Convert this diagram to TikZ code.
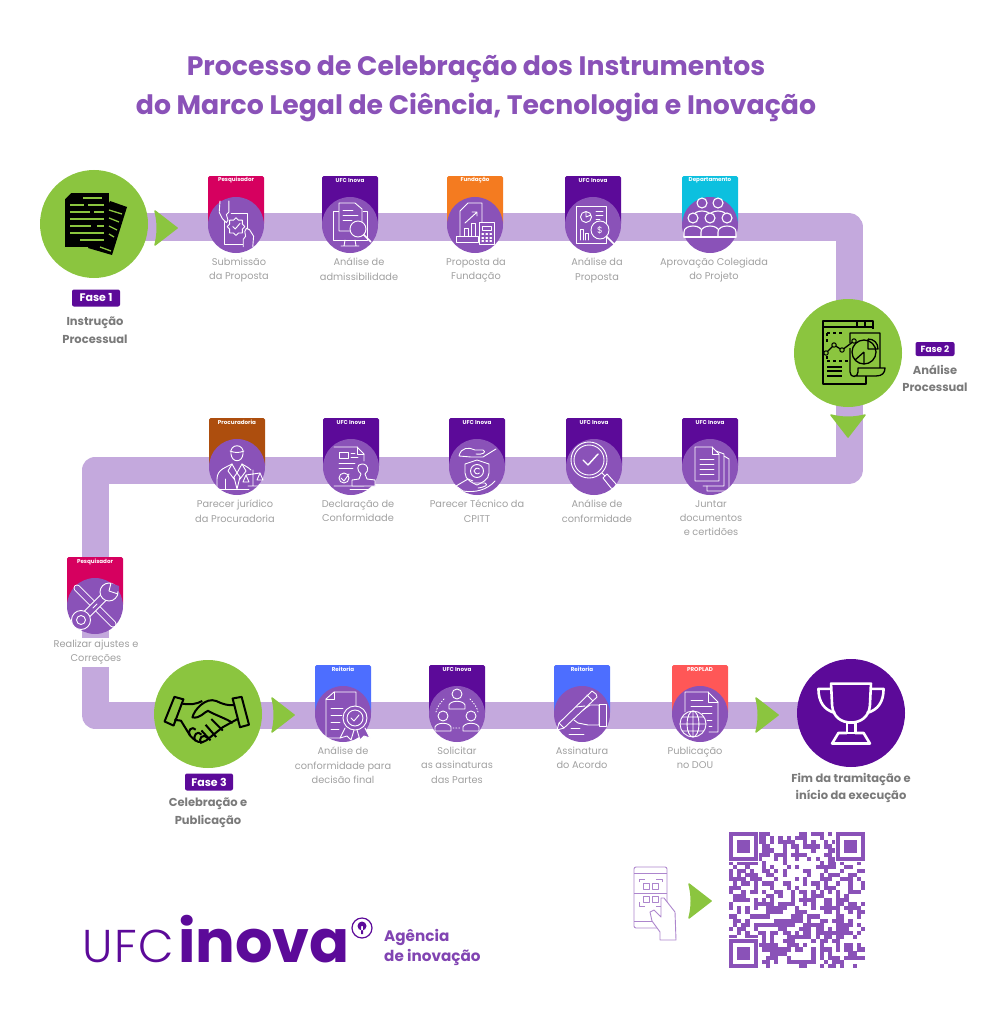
\documentclass[tikz,border=0pt]{standalone}
\usepackage{fontspec}
\setmainfont{Poppins}
\newfontfamily\lightfont[LetterSpace=4]{Poppins Light}
\usetikzlibrary{backgrounds}

\definecolor{verde}{HTML}{8BC53F}
\definecolor{faixa}{HTML}{C4A9DD}
\definecolor{disco}{HTML}{8A52B8}
\definecolor{roxo}{HTML}{5C0A99}
\definecolor{rosa}{HTML}{D6005F}
\definecolor{laranja}{HTML}{F47B20}
\definecolor{ciano}{HTML}{0CC0DF}
\definecolor{marrom}{HTML}{AD4E0E}
\definecolor{azul}{HTML}{4D6EFF}
\definecolor{coral}{HTML}{FF5757}
\definecolor{cinza}{HTML}{A0A0A0}
\definecolor{cinzaforte}{HTML}{7A7A7A}

\tikzset{
  band/.style={draw=faixa, line width=27pt, line join=round},
  tagbox/.style={rectangle, rounded corners=1.5pt, minimum width=56pt, minimum height=49pt, anchor=north, inner sep=0pt},
  tagtext/.style={text=white, font=\fontsize{5.6}{6}\selectfont\bfseries, inner sep=0pt},
  stepdisc/.style={circle, fill=disco, minimum size=56pt, inner sep=0pt},
  steplabel/.style={text=cinza, font=\fontsize{9.8}{14.3}\selectfont, align=center, anchor=north, inner sep=0pt},
  phasedisc/.style={circle, fill=verde, minimum size=108pt, inner sep=0pt},
  phasepill/.style={fill=roxo, text=white, rounded corners=2pt, font=\fontsize{11}{12}\selectfont\bfseries, inner sep=0pt, minimum height=17pt, minimum width=48pt},
  phaselabel/.style={text=cinzaforte, font=\fontsize{11.5}{17.5}\selectfont\bfseries, align=center, anchor=north, inner sep=0pt},
  iconw/.style={draw=white, line width=0.9pt, line join=round, line cap=round},
  iconb/.style={draw=black, line width=1.3pt, line join=round},
  chev/.style={fill=verde, draw=verde, line width=1.5pt, line join=round},
}

% step: name, x, y, colour, tag, label x, label, icon
\newcommand{\stepnode}[8]{
  \node[tagbox, fill=#4] (#1tag) at (#2,#3-49) {};
  \node[tagtext] (#1who) at (#2,#3-44.5) {#5};
  \node[stepdisc] (#1) at (#2,#3) {};
  \node[steplabel] (#1txt) at (#6,#3+33) {#7};
  \begin{scope}[shift={(#2,#3)}]
    #8
  \end{scope}
}
\newcommand{\chevron}[3]{
  \fill[chev, shift={(#1,#2)}, rotate=#3] (-11,-17) -- (11,0) -- (-11,17) .. controls (-8,6) and (-8,-6) .. cycle;
}

\newcommand{\lensw}[3]{
  \draw[iconw, fill=disco] (#1,#2) circle (#3);
  \draw[iconw, line width=1.6pt] (#1+#3*0.72,#2+#3*0.72) -- (#1+#3*1.6,#2+#3*1.6);
}
\newcommand{\icosubmit}{
  \begin{scope}[scale=0.8]
  \draw[iconw] (-11,-14) -- (-14,-14) -- (-14,24) -- (14,24) -- (14,-14) -- (-6,-14);
  \draw[iconw, fill=disco] (0,-9) -- (3,-6) -- (8,-6) -- (8,-1) -- (11,2) -- (8,5) -- (8,10) -- (3,10) -- (0,13) -- (-3,10) -- (-8,10) -- (-8,5) -- (-11,2) -- (-8,-1) -- (-8,-6) -- (-3,-6) -- cycle;
  \draw[iconw] (-4,2) -- (-1,5) -- (5,-2);
  \draw[iconw, fill=disco] (-20,-30) -- (-21,-16) -- (-17,-8) -- (-12,-3) -- (-10,-6) -- (-12,-13) -- (-9,-16) -- (-9,-30);
  \draw[iconw, fill=disco] (21,27) -- (22,14) -- (17,6) -- (13,4) -- (11,8) -- (12,14) -- (9,18) -- (9,27);
  \end{scope}
}
\newcommand{\icomonitor}{
  \draw[iconw] (-10,-14) -- (-17,-14) -- (-17,15) -- (17,15) -- (17,-14) -- (13,-14);
  \draw[iconw] (-5,15) -- (-6,21) -- (6,21) -- (5,15) (-9,21) -- (9,21);
  \draw[iconw, fill=disco] (-11,6) -- (-11,-22) -- (5,-22) -- (12,-16) -- (12,6) -- cycle;
  \draw[iconw] (-7,-15) -- (3,-15) (-7,-10) -- (8,-10) (-7,-5) -- (2,-5);
  \lensw{8}{4}{8}
}
\newcommand{\icofunda}{
  \draw[iconw] (-15,12) -- (-15,-14) -- (-7,-22) -- (7,-22) -- (7,-2);
  \draw[iconw] (-10,-2) -- (1,-12) (-3,-13) -- (2,-13) -- (2,-9);
  \draw[iconw] (-11,12) -- (-11,3) -- (-7,3) -- (-7,12) (-4,12) -- (-4,-2) -- (0,-2) -- (0,12);
  \draw[iconw, fill=disco] (-19,11) rectangle (3,17);
  \draw[iconw, fill=disco] (4,-3) rectangle (19,19);
  \draw[iconw] (7,1) rectangle (16,5);
  \foreach \x in {7,11,15} \foreach \y in {9,13,16} \draw[iconw, line width=1.3pt] (\x,\y) -- (\x+1.5,\y);
}
\newcommand{\icoanalise}{
  \draw[iconw] (-17,-19) rectangle (13,18);
  \draw[iconw] (-7,-8) circle (5.5) (-7,-8) -- (-7,-13.5) (-7,-8) -- (-2,-10);
  \draw[iconw] (3,-14) -- (10,-14) (3,-10) -- (10,-10) (3,-6) -- (7,-6);
  \draw[iconw] (-13,15) -- (-13,4) -- (-10,4) -- (-10,15) (-8,15) -- (-8,8) -- (-5,8) -- (-5,15);
  \lensw{7}{5}{9}
  \node[text=white, font=\fontsize{9}{9}\selectfont, inner sep=0pt] (sinal) at (7,5) {\$};
}
\newcommand{\icopessoas}{
  \foreach \x/\y in {-8/-22,8/-22,-17/-7,0/-7,17/-7}{
    \draw[iconw, fill=disco, line width=1.1pt] (\x,\y) circle (5);
    \draw[iconw, fill=disco, line width=1.1pt] (\x-9,\y+19) -- (\x-9,\y+14) .. controls (\x-9,\y+6) and (\x+9,\y+6) .. (\x+9,\y+14) -- (\x+9,\y+19);
  }
  \draw[iconw, line width=1.1pt] (-26,12) -- (26,12);
}
\newcommand{\icojurista}{
  \draw[iconw] (-6,-13) .. controls (-8,-24) and (8,-24) .. (6,-13) .. controls (5,-4) and (-5,-4) .. cycle;
  \draw[iconw] (-7,-16) .. controls (-2,-14) and (2,-14) .. (7,-16);
  \draw[iconw] (-20,22) -- (-20,12) .. controls (-20,2) and (-10,0) .. (-5,-3) -- (0,6) -- (5,-3) .. controls (8,-1) and (11,0) .. (14,3);
  \draw[iconw] (-5,-3) -- (-9,4) -- (-3,12) (5,-3) -- (9,4) -- (3,12) (0,6) -- (-3,10) -- (0,22) -- (3,10) -- cycle;
  \draw[iconw] (-20,22) -- (12,22) (-12,12) -- (-12,22);
  \draw[iconw] (16,3) -- (16,19) (11,19) -- (21,19) (9,8) -- (23,6);
  \draw[iconw] (6,15) -- (9,8) -- (12,15) -- cycle (20,13) -- (23,6) -- (26,13) -- cycle;
}
\newcommand{\icocarimbo}{
  \draw[iconw] (-17,-20) -- (6,-20) -- (13,-13) -- (13,-6) (13,19) -- (-17,19) -- cycle;
  \draw[iconw] (6,-20) -- (6,-13) -- (13,-13);
  \draw[iconw] (-12,-15) rectangle (-3,-9);
  \draw[iconw] (0,-14) -- (4,-14) (0,-10) -- (7,-10) (-12,-4) -- (4,-4) (-12,1) -- (2,1);
  \draw[iconw] (-7,11) circle (5) (-10,11) -- (-7,14) -- (-2,7);
  \draw[iconw, fill=disco] (11,-3) .. controls (5,-3) and (6,4) .. (10,7) -- (8,12) -- (1,13) -- (1,19) -- (24,19) -- (24,13) -- (16,12) -- (14,7) .. controls (18,4) and (18,-3) .. (11,-3);
  \draw[iconw] (-1,22) -- (24,22);
}
\newcommand{\icoescudo}{
  \draw[iconw] (-18,-11) .. controls (-16,-20) and (-8,-20) .. (-2,-17) -- (6,-17) .. controls (10,-15) and (6,-12) .. (-1,-13) (-18,-11) -- (-6,-10) -- (6,-10) -- (19,-18);
  \draw[iconw] (-12,-3) -- (0,-7) -- (12,-3) -- (12,6) .. controls (12,13) and (4,16) .. (0,18) .. controls (-4,16) and (-12,13) .. (-12,6) -- cycle;
  \draw[iconw] (0,4) circle (6.5);
  \draw[iconw] (2.5,2) .. controls (0,0) and (-3,2) .. (-3,4) .. controls (-3,6) and (0,8) .. (2.5,6);
  \draw[iconw] (-21,19) -- (-9,12) -- (-4,14) (18,14) .. controls (10,23) and (-2,26) .. (-14,24) -- (-21,19);
  \draw[iconw] (1,21) .. controls (8,20) and (12,18) .. (8,16) -- (-3,16);
}
\newcommand{\icolupa}{
  \draw[iconw] (-5,-7) circle (18) (-5,-7) circle (15);
  \draw[iconw, line width=1.4pt] (-11,-7) -- (-6,-2) -- (4,-13);
  \draw[iconw] (8,6) -- (11,9);
  \draw[iconw] (9,11) -- (13,7) -- (22,17) .. controls (23,21) and (20,23) .. (17,21) -- cycle;
}
\newcommand{\icofolhas}{
  \draw[iconw] (6,-16) -- (14,-13) -- (14,19) -- (-7,19);
  \draw[iconw] (14,-11) -- (19,-8) -- (19,24) -- (-3,24) -- (-3,19);
  \draw[iconw, fill=disco] (-15,-20) -- (2,-20) -- (9,-13) -- (9,14) -- (-15,14) -- cycle;
  \draw[iconw] (2,-20) -- (2,-13) -- (9,-13);
  \foreach \y in {-8,-3,2,7} \draw[iconw] (-10,\y) -- (4,\y);
}
\newcommand{\icoferramentas}{
  \draw[white, line width=7pt, line cap=round] (-18,-18) -- (18,18);
  \draw[disco, line width=5pt, line cap=round] (-18,-18) -- (18,18);
  \draw[white, line width=8.5pt] (-16,16) -- (16,-16);
  \draw[disco, line width=6.5pt] (-16,16) -- (16,-16);
  \draw[iconw, fill=disco] (-14,14) circle (9.5);
  \draw[iconw, fill=disco] (-14,14) circle (4.5);
  \draw[iconw, fill=disco] (14,-14) circle (9);
  \fill[disco] (16,-23) -- (24,-20) -- (24,-15) -- (16,-13) -- cycle;
  \draw[iconw] (16,-23) -- (14,-15) -- (23,-12);
  \draw[iconw] (-2,2) -- (2,-2);
}
\newcommand{\icocertificado}{
  \draw[iconw] (-3,24) -- (-17,24) -- (-17,-15) -- (-9,-22) -- (13,-22) -- (13,-7);
  \draw[iconw] (-17,-15) -- (-9,-15) -- (-9,-22);
  \draw[iconw] (-12,-6) -- (0,-6) (-12,1) -- (-1,1) (-12,8) -- (-3,8) (-12,15) -- (-4,15);
  \draw[iconw, fill=disco] (2,14) -- (-3,24) -- (4,22) -- (8,26) -- (11,16) (14,16) -- (17,26) -- (21,22) -- (27,24) -- (22,14);
  \draw[iconw, fill=disco] (12,4) circle (12);
  \draw[iconw] (12,4) circle (8);
  \draw[iconw] (8,4) -- (11,7) -- (16,1);
}
\newcommand{\icopartes}{
  \foreach \x/\y in {0/-20,-14/2,14/2}{
    \draw[iconw] (\x,\y) circle (5);
    \draw[iconw] (\x-8,\y+15) -- (\x-8,\y+11) .. controls (\x-6,\y+6) and (\x+6,\y+6) .. (\x+8,\y+11) -- (\x+8,\y+15) -- cycle;
  }
  \draw[iconw, dotted] (-13,-15) .. controls (-18,-10) and (-20,-6) .. (-21,-2) (13,-15) .. controls (18,-10) and (20,-6) .. (21,-2) (-4,14) -- (4,14);
}
\newcommand{\icoassina}{
  \draw[iconw] (-23,9) -- (10,-23) -- (14,-20) -- (15,-17) -- (-18,14) -- cycle (5,-19) -- (11,-13);
  \draw[iconw] (-23,9) -- (-25,16) -- (-18,14);
  \draw[iconw] (-6,-7) -- (3,-8) (1,-4) -- (8,-9) -- (17,-9) -- (17,11) -- (6,11) (-8,6) -- (-4,9) -- (6,11);
  \draw[iconw] (17,-10) rectangle (24,12);
  \draw[iconw] (-11,14) -- (-2,14) (-13,20) -- (2,20);
}
\newcommand{\icoglobo}{
  \draw[iconw] (-15,-2) -- (-15,-22) -- (8,-22) -- (18,-12) -- (18,18) -- (9,18);
  \draw[iconw] (8,-22) -- (8,-12) -- (18,-12);
  \draw[iconw] (-9,-14) -- (3,-14) (-9,-8) -- (12,-8) (2,-1) -- (12,-1) (7,6) -- (12,6) (9,12) -- (12,12);
  \draw[iconw, fill=disco] (-7,10) circle (13);
  \draw[iconw] (-7,10) ellipse (6 and 13) (-7,-3) -- (-7,23) (-20,10) -- (6,10) (-18,3) -- (4,3) (-18,17) -- (4,17);
}

\begin{document}
\begin{tikzpicture}[x=1pt, y=-1pt]
\useasboundingbox (0,0) rectangle (994,1024);

\node[text=disco, font=\fontsize{26.7}{39}\selectfont\bfseries, align=center, inner sep=0pt] (titulo) at (476,89) {Processo de Celebração dos Instrumentos\\do Marco Legal de Ciência, Tecnologia e Inovação};

% fases
\node[phasedisc] (fase1) at (94,224) {};
\node[phasedisc] (fase2) at (848,353) {};
\node[phasedisc] (fase3) at (208,714) {};
\node[phasedisc, fill=roxo] (fim) at (851,713) {};

\node[phasepill] (pill1) at (96,298) {Fase 1};
\node[phaselabel] (txt1) at (95,317) {Instrução\\Processual};
\node[phasepill, minimum width=39pt, minimum height=14pt, font=\fontsize{9}{10}\selectfont\bfseries] (pill2) at (935,349) {Fase 2};
\node[phaselabel] (txt2) at (935,364.5) {Análise\\Processual};
\node[phasepill] (pill3) at (209,782) {Fase 3};
\node[phaselabel] (txt3) at (208,798) {Celebração e\\Publicação};
\node[phaselabel] (txtfim) at (851,773) {Fim da tramitação e\\início da execução};

% etapas de cima
\stepnode{submissao}{236}{225}{rosa}{Pesquisador}{239}{Submissão\\da Proposta}{\icosubmit}
\stepnode{admissao}{350}{225}{roxo}{UFC Inova}{359}{Análise de\\admissibilidade}{\icomonitor}
\stepnode{fundacao}{475}{225}{laranja}{Fundação}{476}{Proposta da\\Fundação}{\icofunda}
\stepnode{proposta}{593}{225}{roxo}{UFC Inova}{597}{Análise da\\Proposta}{\icoanalise}
\stepnode{colegiado}{710}{225}{ciano}{Departamento}{714}{Aprovação Colegiada\\do Projeto}{\icopessoas}

% etapas do meio
\stepnode{procurador}{237}{467}{marrom}{Procuradoria}{235}{Parecer jurídico\\da Procuradoria}{\icojurista}
\stepnode{declaracao}{351}{467}{roxo}{UFC Inova}{358}{Declaração de\\Conformidade}{\icocarimbo}
\stepnode{cpitt}{477}{467}{roxo}{UFC Inova}{477}{Parecer Técnico da\\CPITT}{\icoescudo}
\stepnode{conforme}{594}{467}{roxo}{UFC Inova}{597}{Análise de\\conformidade}{\icolupa}
\stepnode{juntar}{710}{467}{roxo}{UFC Inova}{711}{Juntar\\documentos\\e certidões}{\icofolhas}

% ajustes
\stepnode{ajustes}{95}{606}{rosa}{Pesquisador}{96}{\phantom{x}}{\icoferramentas}
\node[steplabel, fill=white, inner ysep=2pt, inner xsep=4pt] (ajustestxt2) at (96,638) {Realizar ajustes e\\Correções};

% etapas de baixo
\stepnode{reitoria}{343}{714}{azul}{Reitoria}{343}{Análise de\\conformidade para\\decisão final}{\icocertificado}
\stepnode{partes}{457}{714}{roxo}{UFC Inova}{457}{Solicitar\\as assinaturas\\das Partes}{\icopartes}
\stepnode{acordo}{582}{714}{azul}{Reitoria}{582}{Assinatura\\do Acordo}{\icoassina}
\stepnode{dou}{700}{714}{coral}{PROPLAD}{695}{Publicação\\no DOU}{\icoglobo}

% icone fase 1
\begin{scope}[shift={(fase1)}]
  \fill[black] (16,-23) -- (33,-17) -- (18,31) -- (-6,24) -- cycle;
  \fill[black] (-29,-31) -- (15,-31) -- (15,23) -- (-29,23) -- cycle;
  \draw[verde, line width=1.3pt] (15,-14) -- (28,-10) (15,-6) -- (25,-2) (15,2) -- (23,6) (15,10) -- (20,13) (6,23) -- (17,27);
  \fill[verde] (-29,-31) -- (-23,-31) -- (-29,-25) -- cycle;
  \foreach \a/\b/\y in {-11/8/-26,-24/-10/-19,-6/10/-19,-24/-4/-12,0/10/-12,-24/10/-5,-24/-3/2,3/10/2,-24/10/9,-14/10/16}
    \draw[verde, line width=1.3pt] (\a,\y) -- (\b,\y);
\end{scope}
% icone fase 2
\begin{scope}[shift={(fase2)}]
  \draw[iconb] (18,23) -- (18,31) -- (-25,31) -- (-25,-32) -- (25,-32) -- (25,-24);
  \draw[iconb] (-25,-26) -- (25,-26) (9,-32) -- (9,-26) (17,-32) -- (17,-26);
  \draw[iconb, dashed] (-21,-20) -- (-3,-20) (-21,-20) -- (-21,-8) (-21,3) -- (-21,8) (-21,8) -- (1,8);
  \draw[iconb] (-22,0) -- (-14,-8) -- (-6,-3) -- (6,-12);
  \fill[verde, draw=black, line width=1pt] (-22,0) circle (2.2) (-14,-8) circle (2.2) (-6,-3) circle (2.2) (6,-12) circle (2.2);
  \draw[iconb] (-21,14) -- (-6,14) (-21,18) -- (-6,18) (-21,23) -- (-6,23);
  \draw[iconb] (2,-10) -- (2,-20) -- (32,-20) -- (32,14) (2,-5) -- (2,19) .. controls (2,25) and (10,25) .. (10,19) -- (10,15) -- (37,15) .. controls (37,20) and (34,23) .. (28,23) -- (6,23);
  \draw[iconb] (16,-1) circle (12) (16,-1) -- (16,11) (16,-1) -- (7,7);
  \draw[iconb] (20,-14) -- (20,-4) -- (30,-4) .. controls (30,-10) and (26,-14) .. (20,-14);
\end{scope}
% icone fase 3
\begin{scope}[shift={(fase3)}, yshift=-5pt, scale=0.82, iconb/.append style={line width=2pt}]
  \draw[iconb, fill=verde] (-41,-27) -- (-30,-24) -- (-42,8) -- (-53,3) -- cycle;
  \draw[iconb, fill=verde] (41,-27) -- (30,-25) -- (39,10) -- (50,7) -- cycle;
  \draw[iconb] (-33,-19) .. controls (-22,-17) and (-14,-18) .. (-7,-22) (-41,1) -- (-33,2) -- (-22,20) .. controls (-15,28) and (-8,31) .. (-2,26) -- (18,10) -- (36,0);
  \draw[iconb] (33,-17) .. controls (25,-16) and (18,-18) .. (10,-22) .. controls (-3,-27) and (-17,-11) .. (-19,-2) .. controls (-10,0) and (-4,-9) .. (0,-10) .. controls (8,-5) and (24,0) .. (30,5);
  \draw[iconb] (-22,20) .. controls (-26,14) and (-19,8) .. (-15,13) (-15,27) .. controls (-20,20) and (-12,13) .. (-8,19) (-8,30) .. controls (-13,24) and (-6,17) .. (-1,23) (-3,7) -- (10,22) (4,0) -- (18,14) (-8,14) -- (3,26) ;
\end{scope}
% trofeu
\begin{scope}[shift={(fim)}, yshift=1pt, scale=1.05]
  \draw[draw=white, line width=2.6pt, line join=round] (-19,-27) -- (19,-27) -- (18,-6) .. controls (17,5) and (9,10) .. (0,10) .. controls (-9,10) and (-17,5) .. (-18,-6) -- cycle;
  \draw[draw=white, line width=2.6pt, line join=round] (-19,-22) -- (-31,-22) .. controls (-31,-10) and (-26,-2) .. (-15,1) (19,-22) -- (31,-22) .. controls (31,-10) and (26,-2) .. (15,1);
  \draw[draw=white, line width=2.6pt, line join=round] (-4,10) rectangle (4,20);
  \draw[draw=white, line width=2.6pt, line join=round] (-4,20) -- (-12,20) -- (-18,30) -- (18,30) -- (12,20) -- (4,20);
\end{scope}

% setas
\chevron{166}{228}{0}
\chevron{848}{426}{-90}
\chevron{283}{715}{0}
\chevron{767}{715}{0}
\chevron{700}{901}{0}

% logo
\node[text=roxo, font=\lightfont\fontsize{46}{46}\selectfont, anchor=base west, inner sep=0pt] (logoufc) at (82,962) {UFC};
\node[text=roxo, font=\fontsize{59}{59}\selectfont\bfseries, anchor=base west, inner sep=0pt] (logoinova) at (178,962) {inova};
\draw[roxo, line width=1.2pt] (362,928) circle (10);
\fill[roxo] (362,926) circle (4.5) (361,926) rectangle (363,934);
\node[text=disco!80!roxo, font=\fontsize{15.2}{20}\selectfont\bfseries, align=left, anchor=west, inner sep=0pt] (agencia) at (384,947) {Agência\\de inovação};

% celular
\begin{scope}[disco!70!white, line width=0.9pt, line join=round]
  \draw[rounded corners=2pt] (634,867) rectangle (667,928);
  \draw (634,873) -- (667,873) (634,921) -- (667,921);
  \draw (639,882) -- (639,879) -- (645,879) (656,879) -- (662,879) -- (662,882) (639,902) -- (639,906) -- (645,906) (656,906) -- (662,906) -- (662,902);
  \draw (634,893) -- (667,893);
  \draw (643,883) rectangle (649,889) (652,883) rectangle (658,889) (643,896) rectangle (649,902) (652,896) rectangle (658,902);
  \draw[fill=white] (660,940) -- (660,932) -- (652,921) -- (650,912) -- (654,910) -- (661,917) -- (661,898) -- (664,898) -- (675,912) -- (676,940) -- cycle;
\end{scope}

% qr code
\pgfmathsetseed{2024}
\foreach \c in {0,...,32}
  \foreach \r in {0,...,32}{
    \pgfmathrandominteger{\qrbit}{0}{99}
    \ifnum\qrbit<52
      \fill[disco] (729+\c*4.12,832+\r*4.12) rectangle +(4.14,4.14);
    \fi
  }
\foreach \fx/\fy in {729/832,836/832,729/939}{
  \fill[white] (\fx-1,\fy-1) rectangle +(31,31);
  \draw[disco, line width=4.12pt] (\fx+2,\fy+2) rectangle +(24.7,24.7);
  \fill[disco] (\fx+8.3,\fy+8.3) rectangle +(12.4,12.4);
}

% faixa
\coordinate (cantoA) at (849,227);
\coordinate (cantoB) at (849,470);
\coordinate (cantoC) at (95,470);
\coordinate (cantoD) at (95,715);
\begin{scope}[on background layer]
  \draw[band] (cantoA -| fase1) -- (cantoA) -- (cantoB) -- (cantoC) -- (cantoD) -- (cantoD -| fim);
\end{scope}
\end{tikzpicture}
\end{document}
